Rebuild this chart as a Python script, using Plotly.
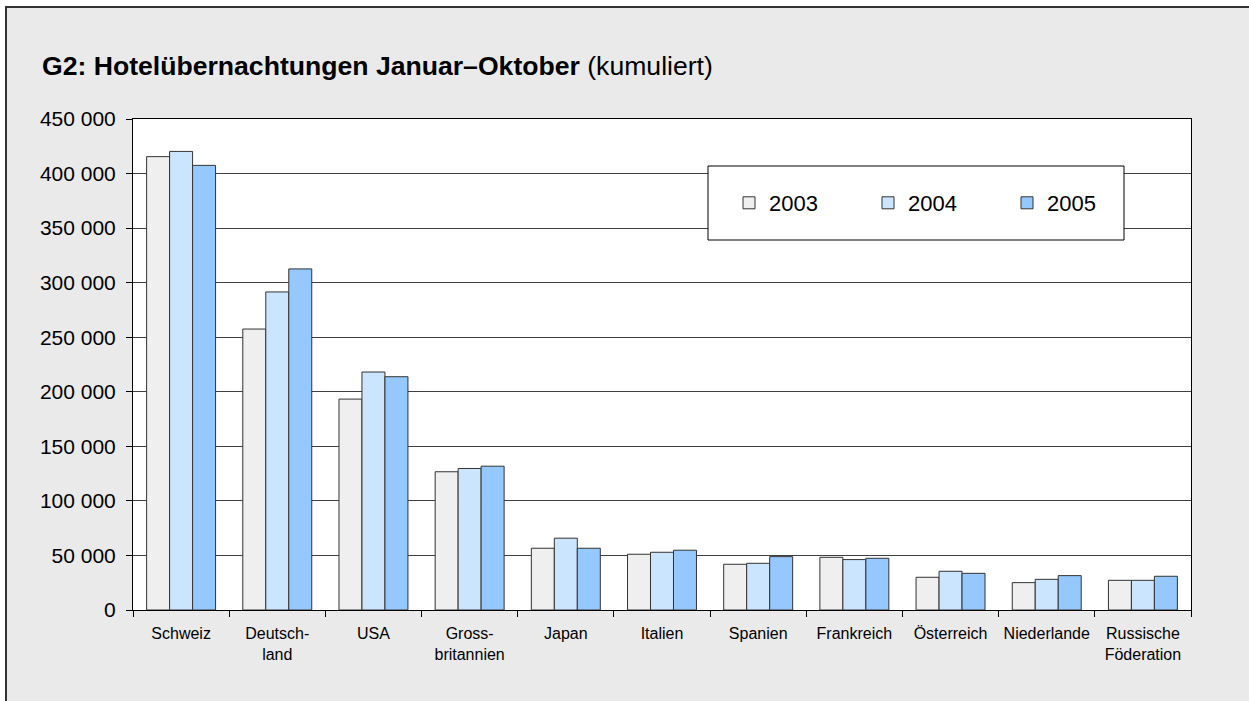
import plotly.graph_objects as go

categories = ["Schweiz", "Deutsch-<br>land", "USA", "Gross-<br>britannien", "Japan", "Italien",
              "Spanien", "Frankreich", "Österreich", "Niederlande", "Russische<br>Föderation"]
years = ["2003", "2004", "2005"]
v2003 = [415500, 257500, 193300, 126700, 56600, 51100, 41900, 48300, 30000, 25100, 27200]
v2004 = [420300, 291500, 218100, 129700, 65800, 52900, 42800, 46200, 35500, 28100, 27200]
v2005 = [407500, 312600, 213800, 131800, 56600, 54800, 48900, 47400, 33600, 31500, 30900]
series = [v2003, v2004, v2005]
colors = ["#EFEFEF", "#CCE5FF", "#95C8FF"]
ytickvals = [0, 50000, 100000, 150000, 200000, 250000, 300000, 350000, 400000, 450000]
yticktext = ["0", "50 000", "100 000", "150 000", "200 000", "250 000", "300 000",
             "350 000", "400 000", "450 000"]

W, H = 1249, 701
PL, PR, PT, PB = 133, 1191, 119, 610  # plot area in window pixels
L, R, T, B = PL, W - PR, PT, H - PB
pw, ph = PR - PL, PB - PT

def px_x(x):
    return (x - PL) / pw

def px_y(y):
    return (PB - y) / ph

fig = go.Figure()
for name, vals, col in zip(years, series, colors):
    fig.add_trace(go.Bar(x=categories, y=vals, name=name,
                         marker=dict(color=col, line=dict(color="#333333", width=1))))

font_main = "Liberation Sans, Arial, sans-serif"

fig.update_layout(
    width=W, height=H,
    margin=dict(l=L, r=R, t=T, b=B, autoexpand=False),
    paper_bgcolor="white",
    plot_bgcolor="rgba(0,0,0,0)",
    barmode="group", bargap=0.283, bargroupgap=0,
    font=dict(family=font_main, color="black"),
    title=dict(text="<b>G2: Hotelübernachtungen Januar–Oktober</b> (kumuliert)",
               font=dict(size=26.6, family=font_main, color="black"),
               x=42 / W, xanchor="left", xref="container",
               y=1 - 66 / H, yanchor="middle", yref="container"),
    showlegend=True,
    legend=dict(orientation="h", x=px_x(729), xanchor="left",
                y=px_y(203), yanchor="middle",
                bgcolor="rgba(0,0,0,0)", borderwidth=0,
                entrywidth=94, entrywidthmode="pixels",
                font=dict(family=font_main, size=22, color="black")),
    xaxis=dict(showline=True, linecolor="black", linewidth=1, mirror=True,
               ticks="outside", tickson="boundaries", ticklen=6, tickcolor="black",
               ticklabelstandoff=9,
               tickfont=dict(size=16, family=font_main, color="black"),
               showgrid=False, fixedrange=True),
    yaxis=dict(range=[0, 450000], tickvals=ytickvals, ticktext=yticktext,
               showline=True, linecolor="black", linewidth=1, mirror=True,
               ticks="outside", ticklen=6, tickcolor="black",
               ticklabelstandoff=6,
               tickfont=dict(size=21, family=font_main, color="black"),
               showgrid=True, gridcolor="#404040", gridwidth=1,
               zeroline=False, fixedrange=True),
    shapes=[
        # grey frame background with top/left border
        dict(type="rect", xref="paper", yref="paper", layer="below",
             x0=px_x(6), x1=px_x(W + 50), y0=px_y(H + 50), y1=px_y(7),
             fillcolor="#EAEAEA", line=dict(color="#333333", width=2)),
        # white plot area
        dict(type="rect", xref="paper", yref="paper", layer="below",
             x0=0, x1=1, y0=0, y1=1, fillcolor="white", line=dict(width=0)),
        # legend box
        dict(type="rect", xref="paper", yref="paper", layer="above",
             x0=px_x(708), x1=px_x(1124), y0=px_y(240), y1=px_y(166),
             fillcolor="white", line=dict(color="black", width=1)),
    ],
)

fig.write_html("out.html",
               config={"displayModeBar": False},
               post_script="document.body.style.margin='0';"
                           "document.body.style.overflow='hidden';")
